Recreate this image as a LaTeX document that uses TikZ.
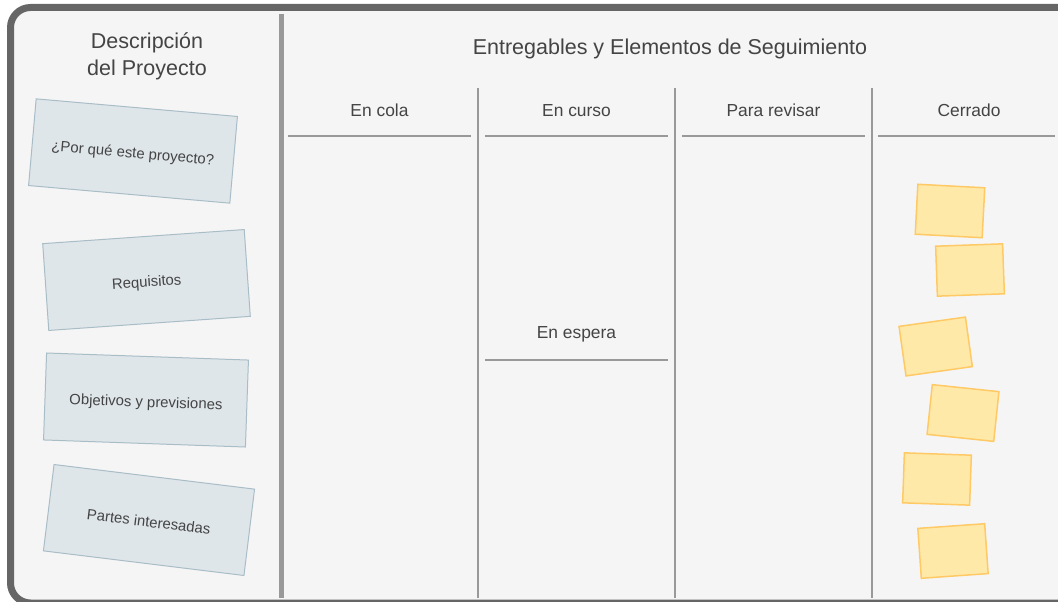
\documentclass[tikz,border=0pt]{standalone}
\usepackage{fontspec}
\setmainfont{Liberation Sans}
\usetikzlibrary{positioning}

\definecolor{framegray}{HTML}{666666}
\definecolor{lanegray}{HTML}{999999}
\definecolor{boardbg}{HTML}{F5F5F5}
\definecolor{inktext}{HTML}{444444}
\definecolor{cardfill}{HTML}{DFE6EA}
\definecolor{carddraw}{HTML}{A9BDC7}
\definecolor{notefill}{HTML}{FFE9A8}
\definecolor{notedraw}{HTML}{FFC966}

\begin{document}
\begin{tikzpicture}[x=1pt, y=-1pt,
  bigtitle/.style={text=inktext, align=center, font=\fontsize{21.5}{27}\selectfont},
  colhead/.style={text=inktext, font=\fontsize{17.4}{21}\selectfont},
  lane/.style={draw=lanegray, line width=2.3pt},
  card/.style={draw=carddraw, fill=cardfill, line width=1pt, minimum width=202pt,
    minimum height=87pt, inner sep=0pt, text height=14pt, text depth=0pt,
    text=inktext, font=\fontsize{14.9}{18}\selectfont},
  sticky/.style={draw=notedraw, fill=notefill, line width=1.5pt, minimum width=67pt,
    minimum height=50pt, inner sep=0pt}]
\useasboundingbox (0,0) rectangle (1058,602);

% board
\draw[draw=framegray, fill=boardbg, line width=7pt, rounded corners=20pt]
  (10.5,7.5) rectangle (1080,603);
\draw[lanegray, line width=4.5pt] (281.5,14) -- (281.5,598);

% left part
\node[bigtitle] (desc) at (147,56) {Descripción\\del Proyecto};
\node[card, rotate=-5] (why) at (133,151) {¿Por qué este proyecto?};
\node[card, rotate=4] (req) at (146.5,280) {Requisitos};
\node[card, rotate=-2] (goals) at (146,400) {Objetivos y previsiones};
\node[card, rotate=-7] (stake) at (149,520) {Partes interesadas};

% right part
\node[bigtitle] (deliv) at (670,48.5) {Entregables y Elementos de Seguimiento};
\foreach \x in {478,675,872}
  \draw[lane] (\x,88) -- (\x,598);
\foreach \x/\name/\txt in {379.5/cola/En cola, 576.5/curso/En curso,
    773.5/revisar/Para revisar, 969/cerrado/Cerrado}
  \node[colhead] (h-\name) at (\x,110.5) {\txt};
\foreach \a/\b in {288/471, 485/668, 682/865, 878/1055}
  \draw[lane] (\a,136) -- (\b,136);
\node[colhead] (wait) at (576.5,334.5) {En espera};
\draw[lane] (485,360) -- (668,360);

% notes in the last column
\foreach \x/\y/\r [count=\i] in {950/211/-3, 970/270/2, 935.7/346.5/8,
    963/413/-6, 937/479/-2, 953/551/4}
  \node[sticky, rotate=\r] (note\i) at (\x,\y) {};
\end{tikzpicture}
\end{document}
